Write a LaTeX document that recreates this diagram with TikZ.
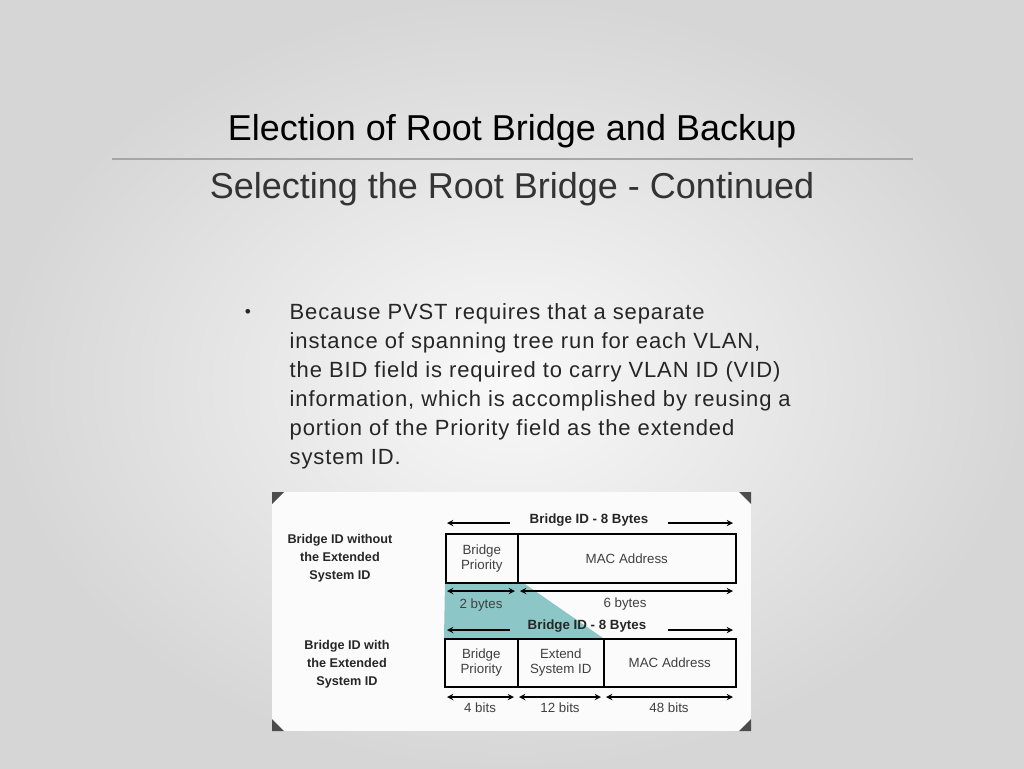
\documentclass[tikz,border=0pt]{standalone}
\usepackage{fontspec}
\setmainfont{Liberation Sans}
\newfontfamily\bodyfont[LetterSpace=4]{Liberation Sans}
\begin{document}
\begin{tikzpicture}[x=0.75pt,y=-0.75pt,
  fld/.style={draw=black,line width=1.2pt},
  lbl/.style={font=\fontsize{10}{11}\selectfont,text=black!75},
  side/.style={font=\bfseries\fontsize{9.5}{13.5}\selectfont,align=center,text=black!85},
  meas/.style={<->,>=stealth,line width=1.1pt},
  body/.style={font=\bodyfont\fontsize{16.5}{21.8}\selectfont,anchor=north west,align=left,text=black!85}]
\useasboundingbox (0,0) rectangle (1024,768);
\shade[inner color=white!95!gray, outer color=black!16] (0,0) rectangle (1024,768);
\node (title) at (512,131) {\fontsize{27}{30}\selectfont Election of Root Bridge and Backup};
\draw[black!35,line width=0.8pt] (112,159) coordinate (l1) -- (913,159) coordinate (l2);
\node (sub) at (512,189) {\fontsize{27}{30}\selectfont\color{black!80}Selecting the Root Bridge - Continued};
\node[font=\fontsize{13}{14}\selectfont,text=black!85] (bul) at (248,313) {•};
\node[body] (txt) at (285,299) {Because PVST requires that a separate\\instance of spanning tree run for each VLAN,\\the BID field is required to carry VLAN ID (VID)\\information, which is accomplished by reusing a\\portion of the Priority field as the extended\\system ID.};
% panel
\fill[white!97!gray] (272,492) rectangle (751,731);
\fill[black!70] (272,492) -- (284,492) -- (272,504) -- cycle;
\fill[black!70] (751,492) -- (739,492) -- (751,504) -- cycle;
\fill[black!70] (272,731) -- (284,731) -- (272,719) -- cycle;
\fill[black!70] (751,731) -- (739,731) -- (751,719) -- cycle;
\fill[teal!45!white] (445,582) -- (522,582) -- (603,638) -- (444,638) -- cycle;
% top row
\node[fld,minimum width=72*0.75pt,minimum height=49*0.75pt,inner sep=0,lbl,align=center,anchor=north west] (bp1) at (445,533) {Bridge\\Priority};
\node[fld,minimum width=218*0.75pt,minimum height=49*0.75pt,inner sep=0,lbl,anchor=north west] (mac1) at (517,533) {MAC Address};
\node[font=\bfseries\fontsize{10}{11}\selectfont,text=black!85] (bid1) at (589,520) {Bridge ID - 8 Bytes};
\coordinate (a1) at (447,523); \coordinate (a2) at (510,523);
\coordinate (a3) at (668,523); \coordinate (a4) at (733,523);
\draw[->,>=stealth,line width=1.1pt] (a2) -- (a1);
\draw[->,>=stealth,line width=1.1pt] (a3) -- (a4);
\coordinate (b1) at (447,591); \coordinate (b2) at (515,591);
\coordinate (b3) at (520,591); \coordinate (b4) at (733,591);
\draw[meas] (b1) -- (b2); \draw[meas] (b3) -- (b4);
\node[lbl] (two) at (481,605) {2 bytes};
\node[lbl] (six) at (625,604) {6 bytes};
\node[font=\bfseries\fontsize{10}{11}\selectfont,text=black!85] (bid2) at (587,626) {Bridge ID - 8 Bytes};
\coordinate (c1) at (447,630); \coordinate (c2) at (510,630);
\coordinate (c3) at (668,630); \coordinate (c4) at (733,630);
\draw[->,>=stealth,line width=1.1pt] (c2) -- (c1);
\draw[->,>=stealth,line width=1.1pt] (c3) -- (c4);
% bottom row
\node[fld,minimum width=73*0.75pt,minimum height=48*0.75pt,inner sep=0,lbl,align=center,anchor=north west] (bp2) at (444,638) {Bridge\\Priority};
\node[fld,minimum width=86*0.75pt,minimum height=48*0.75pt,inner sep=0,lbl,align=center,anchor=north west] (ext) at (517,638) {Extend\\System ID};
\node[fld,minimum width=132*0.75pt,minimum height=48*0.75pt,inner sep=0,lbl,anchor=north west] (mac2) at (603,638) {MAC Address};
\coordinate (d1) at (447,697); \coordinate (d2) at (514,697);
\coordinate (d3) at (519,697); \coordinate (d4) at (601,697);
\coordinate (d5) at (606,697); \coordinate (d6) at (733,697);
\draw[meas] (d1) -- (d2); \draw[meas] (d3) -- (d4); \draw[meas] (d5) -- (d6);
\node[lbl] (f4) at (480,708) {4 bits};
\node[lbl] (f12) at (560,708) {12 bits};
\node[lbl] (f48) at (669,708) {48 bits};
\node[side] (s1) at (340,558) {Bridge ID without\\the Extended\\System ID};
\node[side] (s2) at (347,664) {Bridge ID with\\the Extended\\System ID};
\end{tikzpicture}
\end{document}
